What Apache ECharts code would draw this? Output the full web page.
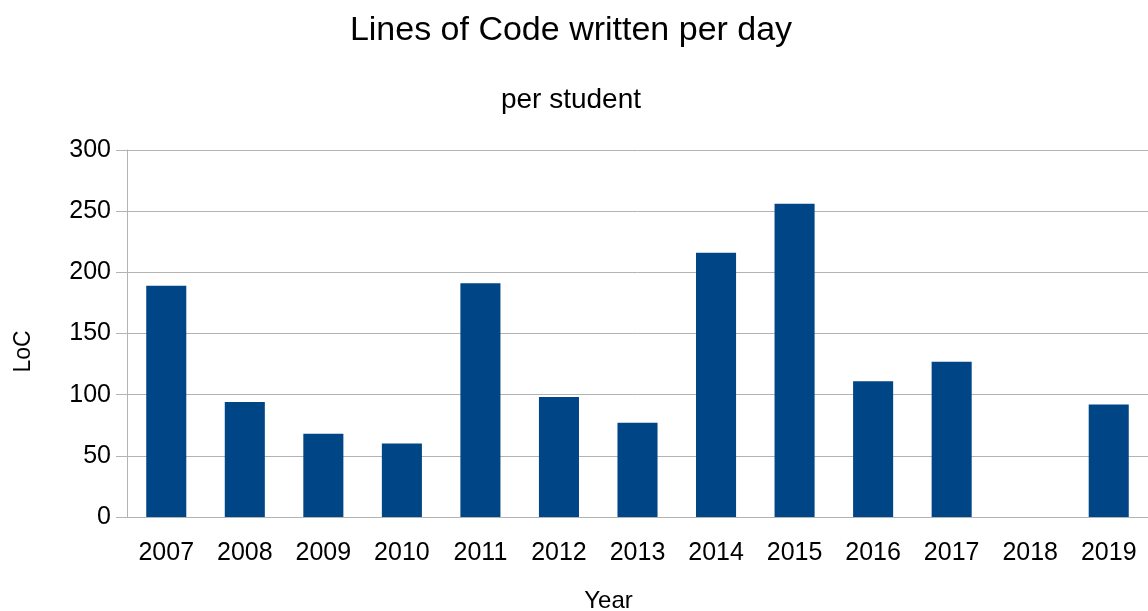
<!DOCTYPE html>
<html style="height: 100%">
<head>
    <meta charset="utf-8">
</head>
<body style="height: 100%; margin: 0">
<div id="container" style="width: 1148px; height: 611px"></div>

<script type="text/javascript" src="https://cdn.jsdelivr.net/npm/echarts@6/dist/echarts.min.js"></script>
<script type="text/javascript">
    // data
    var years = ['2007', '2008', '2009', '2010', '2011', '2012', '2013', '2014', '2015', '2016', '2017', '2018', '2019'];
    var locPerDay = [189, 94, 68, 60, 191, 98, 77, 216, 256, 111, 127, 0, 92];

    var dom = document.getElementById('container');
    var myChart = echarts.init(dom, null, { renderer: 'canvas' });
    var font = 'Liberation Sans, Arial, sans-serif';

    var option = {
      animation: false,
      title: [
        {
          text: 'Lines of Code written per day',
          left: 566,
          textAlign: 'center',
          top: 9,
          textStyle: { fontFamily: font, fontSize: 34, fontWeight: 'normal', color: '#000' }
        },
        {
          text: 'per student',
          left: 566,
          textAlign: 'center',
          top: 81,
          textStyle: { fontFamily: font, fontSize: 28, fontWeight: 'normal', color: '#000' }
        }
      ],
      grid: {
        left: 127,
        right: 0,
        top: 150,
        bottom: 94,
        outerBoundsMode: 'none',
        containLabel: false
      },
      xAxis: {
        type: 'category',
        data: years,
        name: 'Year',
        nameLocation: 'middle',
        nameGap: 72,
        nameTextStyle: { fontFamily: font, fontSize: 24, color: '#000', padding: [0, 58, 0, 0] },
        axisLine: { lineStyle: { color: '#b3b3b3', width: 1 } },
        axisTick: { length: 10, lineStyle: { color: '#b3b3b3' } },
        axisLabel: { fontFamily: font, fontSize: 25, color: '#000', margin: 24 }
      },
      yAxis: {
        type: 'value',
        min: 0,
        max: 300,
        interval: 50,
        name: 'LoC',
        nameLocation: 'middle',
        nameGap: 92,
        nameRotate: 90,
        nameTextStyle: { fontFamily: font, fontSize: 23, color: '#000', padding: [0, 36, 0, 0] },
        axisLine: { show: true, lineStyle: { color: '#b3b3b3', width: 1 } },
        axisTick: { show: true, length: 11, lineStyle: { color: '#b3b3b3' } },
        axisLabel: { fontFamily: font, fontSize: 25, color: '#000', margin: 16 },
        splitLine: { lineStyle: { color: '#b3b3b3', width: 1 } }
      },
      series: [
        {
          type: 'bar',
          data: locPerDay,
          barCategoryGap: '49%',
          itemStyle: { color: '#004586' }
        }
      ]
    };
    myChart.setOption(option);

    window.addEventListener('resize', myChart.resize);
</script>
</body>
</html>
